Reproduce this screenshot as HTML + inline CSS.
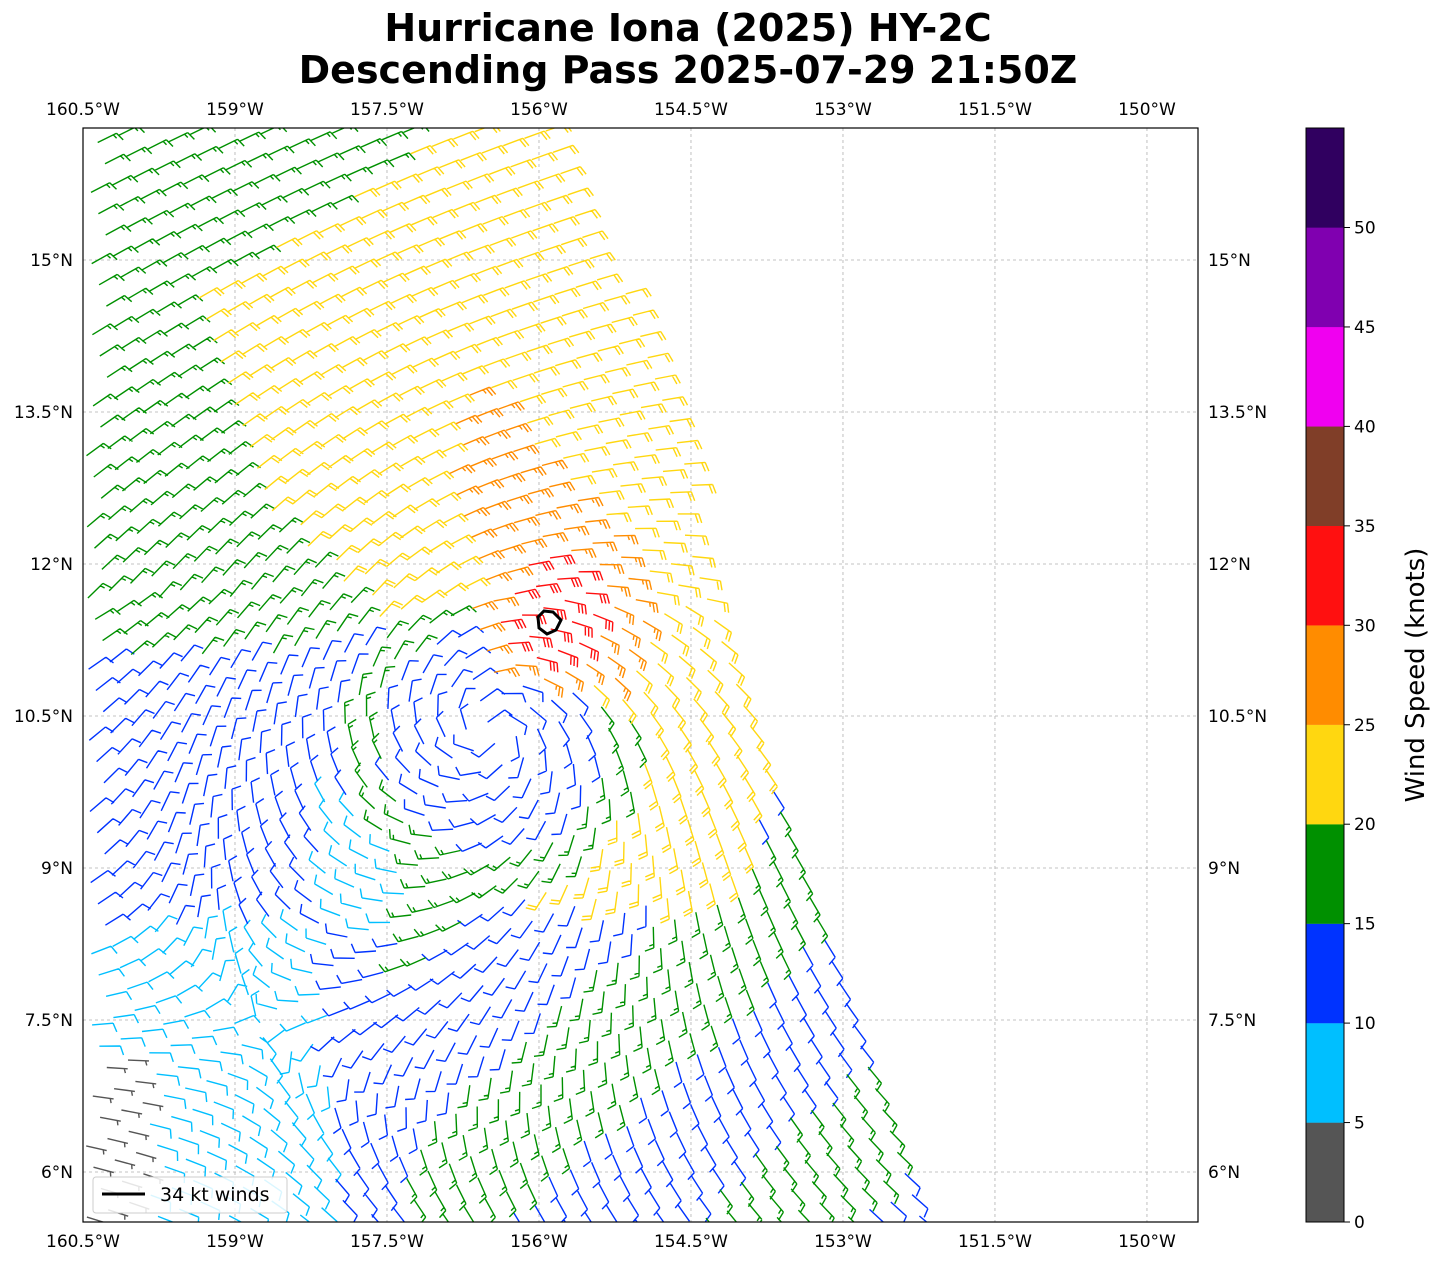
<!DOCTYPE html>
<html><head><meta charset="utf-8">
<style>
body{margin:0;background:#fff;}
svg text{font-family:"DejaVu Sans","Liberation Sans",sans-serif;}
</style></head>
<body>
<svg id="s" width="1443" height="1264" xmlns="http://www.w3.org/2000/svg">
<rect width="1443" height="1264" fill="#fff"/>
<text x="688" y="41" text-anchor="middle" font-size="38" font-weight="bold">Hurricane Iona (2025) HY-2C</text>
<text x="688" y="83" text-anchor="middle" font-size="38" font-weight="bold">Descending Pass 2025-07-29 21:50Z</text>
<defs><clipPath id="pa"><rect x="83" y="128" width="1115" height="1094"/></clipPath></defs>
<g id="grid" stroke="#b0b0b0" stroke-width="0.8" stroke-dasharray="3,3"></g>
<g id="barbs" clip-path="url(#pa)" fill="none" stroke-width="1.4"></g>
<polygon points="538,617 544,611 553,612 561,620 556,630 547,634 539,628" fill="none" stroke="#000" stroke-width="3"/>
<rect x="83" y="128" width="1115" height="1094" fill="none" stroke="#000" stroke-width="1.2"/>
<g id="labels" font-size="17"></g>
<rect x="93" y="1177" width="194" height="36" rx="3" fill="#fff" fill-opacity="0.85" stroke="#ccc"/>
<line x1="102" y1="1194" x2="145" y2="1194" stroke="#000" stroke-width="3"/>
<text x="160" y="1201" font-size="19">34 kt winds</text>
<g id="cb"></g>
<text transform="translate(1424,675) rotate(-90)" text-anchor="middle" font-size="26">Wind Speed (knots)</text>
</svg>
<script>
const NS="http://www.w3.org/2000/svg";
function el(t,a,p,txt){const e=document.createElementNS(NS,t);for(const k in a)e.setAttribute(k,a[k]);if(txt!==undefined)e.textContent=txt;p.appendChild(e);return e;}
const g=document.getElementById('grid'),L=document.getElementById('labels');
[160.5,159,157.5,156,154.5,153,151.5,150].forEach(l=>{const x=83+(160.5-l)*101.33;
 el('line',{x1:x,y1:128,x2:x,y2:1222},g);
 const s=l+'°W';
 el('text',{x:x,y:115,'text-anchor':'middle'},L,s);
 el('text',{x:x,y:1247,'text-anchor':'middle'},L,s);});
[15,13.5,12,10.5,9,7.5,6].forEach(la=>{const y=260+(15-la)*101.33;
 el('line',{x1:83,y1:y,x2:1198,y2:y},g);
 const s=la+'°N';
 el('text',{x:73,y:y+6,'text-anchor':'end'},L,s);
 el('text',{x:1208,y:y+6},L,s);});
const cols=['#555555','#00bfff','#0033ff','#009000','#ffd710','#ff8c00','#ff1010','#803e28','#f000f0','#8000b0','#300060'];
const cb=document.getElementById('cb');
for(let i=0;i<11;i++){el('rect',{x:1306,y:1222-(i+1)*99.45,width:38,height:99.6,fill:cols[i]},cb);}
el('rect',{x:1306,y:128,width:38,height:1094,fill:'none',stroke:'#000','stroke-width':1},cb);
for(let i=0;i<=10;i++){const y=1222-i*99.45;el('line',{x1:1344,y1:y,x2:1350,y2:y,stroke:'#000'},cb);
 el('text',{x:1354,y:y+6,'font-size':17},cb,String(i*5));}
function rightEdge(y){if(y<460)return 570+(y-128)*120/332;if(y<800)return 690+(y-460)*90/340;return 780+(y-800)*160/422;}
function speed(x,y){
 const cx=490,cy=740;const dx=x-cx,dy=y-cy;const r=Math.hypot(dx,dy);
 const hx=550,hy=610;const rh=Math.hypot(x-hx,y-hy);
 if(y<660 && x>500 && rh<55 && x<610) return 32;
 if(rh<100 && y<680 && x>470 && x<650) return 27;
 if(y>360 && y<540 && x>440 && x<640 && x<440+(y-340)*0.9 && x>420+(y-360)*0.25+ (y<420?40:0)) return 27;
 if(r<110) return 12;
 if(r<150 && !(x>540 && y<700)) return 17;
 if(x>540 && y<900 && y>640 && r<280) return 22;
 if(y<640){
  let bx; if(y<300) bx=430-(y-140)*1.5; else if(y<500) bx=190+(y-300)*0.35; else bx=260+(y-500)*0.9;
  if(x<bx) return 17;
  return 22;
 }
 if(x<330 && y>930) { if(x<150 && y>1060) return 3; return 8; }
 if(x<410 && y>800 && y<930 && x>320) return 8;
 if(x<400 && y<940) return (y<660 && x<300)?17:12;
 if(x>400){const t=((x-540)*0.6+(y-700));const k=Math.floor((t+(x-540)*0.3)/160);
  return (k%2===0)?17:12;}
 return 12;
}
const B=document.getElementById('barbs');
const ang=19*Math.PI/180,ca=Math.cos(ang),sa=Math.sin(ang),sp=22.5;
const paths={};
for(let i=-40;i<80;i++)for(let j=-10;j<70;j++){
 const x=83+i*sp*ca + j*sp*sa, y=100+j*sp*ca - i*sp*sa;
 if(x<86||x>1196||y<130||y>1220)continue;
 if(x>rightEdge(y)-4)continue;
 const s=speed(x,y);
 const c=cols[Math.min(10,Math.floor(s/5))];
 const dx=x-490,dy=y-730,r=Math.hypot(dx,dy)+1e-6;
 let vx=dy/r-0.35*dx/r, vy=-dx/r-0.35*dy/r;
 const w=Math.exp(-r/380);
 vx=w*vx+(1-w)*(-0.9)+(y<600?0:0.3*(1-w)); vy=w*vy+(1-w)*(y<600?0.35:-0.2);
 const n=Math.hypot(vx,vy);vx/=n;vy/=n;
 const ux=-vx,uy=-vy;
 const Ls=21,tx=x+ux*Ls,ty=y+uy*Ls;
 const px=-uy,py=ux;
 let p='M'+x.toFixed(1)+' '+y.toFixed(1)+'L'+tx.toFixed(1)+' '+ty.toFixed(1);
 let rem=Math.round(s/5)*5,pos=0;
 while(rem>=10){const bx=tx-ux*pos*3.5,by=ty-uy*pos*3.5;p+='M'+bx.toFixed(1)+' '+by.toFixed(1)+'l'+(px*9+ux*3).toFixed(1)+' '+(py*9+uy*3).toFixed(1);rem-=10;pos++;}
 if(rem>=5){if(pos===0)pos=1;const bx=tx-ux*pos*3.5,by=ty-uy*pos*3.5;p+='M'+bx.toFixed(1)+' '+by.toFixed(1)+'l'+(px*4.5+ux*1.5).toFixed(1)+' '+(py*4.5+uy*1.5).toFixed(1);}
 paths[c]=(paths[c]||'')+p;
}
for(const c in paths)el('path',{d:paths[c],stroke:c},B);
</script>
</body></html>
